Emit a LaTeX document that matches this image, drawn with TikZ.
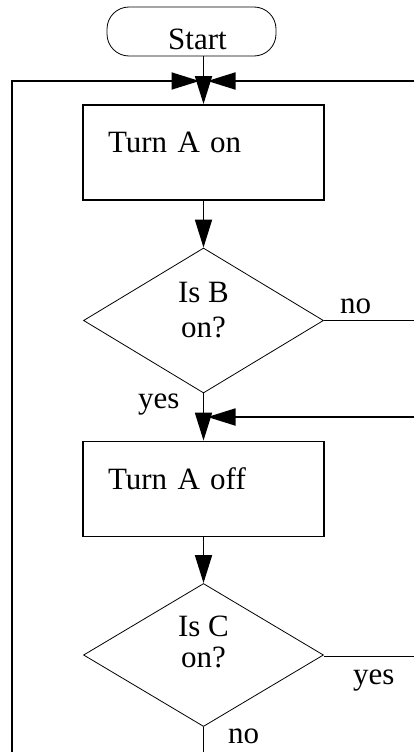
\documentclass[tikz,border=0pt]{standalone}
\usepackage{fontspec}
\setmainfont{Liberation Serif}
\usetikzlibrary{shapes.geometric,arrows.meta}
\begin{document}
\begin{tikzpicture}[x=1pt,y=-1pt,
  every node/.style={font=\fontsize{31}{35}\selectfont},
  term/.style={draw, line width=0.8pt, rounded corners=22pt, minimum width=169pt, minimum height=49pt, inner sep=0pt, text height=37pt, text depth=0pt},
  procbox/.style={draw, line width=1.8pt, minimum width=241pt, minimum height=95pt, inner xsep=25pt, inner ysep=0pt, text width=191pt, align=left, text height=20pt, text depth=20pt},
  decision/.style={draw, diamond, line width=0.8pt, minimum width=240pt, minimum height=145pt, inner sep=0pt, text height=0pt, text depth=37pt},
  lbl/.style={inner sep=0pt},
  conn/.style={line width=1.8pt},
  arr/.style={conn, -{Triangle[length=28pt,width=17pt]}}]
\useasboundingbox (0,0) rectangle (414,752);

\node[term] (start) at (191.5,31.5) {\hspace*{12pt}Start};
\node[procbox] (b1) at (203.5,152.5) {Turn A on};
\node[decision] (dB) at (203.5,320.5) {\begin{tabular}[t]{@{}c@{}}Is B\\on?\end{tabular}};
\node[procbox] (b2) at (203.5,489) {Turn A off};
\node[decision, minimum height=143pt] (dC) at (203.5,655) {\begin{tabular}[t]{@{}c@{}}Is C\\[-4pt]on?\end{tabular}};

\coordinate (jL) at (199.5,81);
\coordinate (jR) at (207.5,81);
\coordinate (loopL) at (12,752);
\coordinate (outR1) at (414,81);
\coordinate (outR2) at (414,320.5);
\coordinate (inR) at (414,417);
\coordinate (jM) at (207.5,417);
\coordinate (outR3) at (414,656.5);
\coordinate (outB) at (203.5,752);

\draw[arr] (b1.north |- start.south) -- (b1.north);
\draw[arr] (loopL) |- (jL);
\draw[arr] (outR1) -- (jR);
\draw[arr] (b1) -- (dB);
\draw[conn] (dB.east) -- (outR2);
\node[lbl, anchor=base west] (noB) at (340,313) {no};
\draw[arr] (dB) -- (b2);
\node[lbl, anchor=base west] (yesB) at (138,408) {yes};
\draw[arr] (inR) -- (jM);
\draw[arr] (b2) -- (dC);
\draw[conn] (dC.east |- outR3) -- (outR3);
\node[lbl, anchor=base west] (yesC) at (353,684) {yes};
\draw[conn] (dC.south) -- (outB);
\node[lbl, anchor=base west] (noC) at (228,743) {no};
\end{tikzpicture}
\end{document}
